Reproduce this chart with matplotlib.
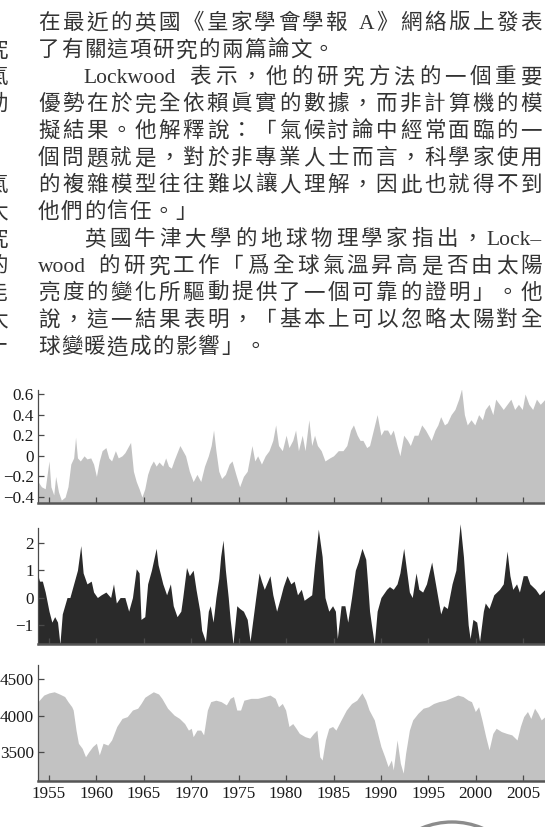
import re
import matplotlib
matplotlib.use("Agg")
import matplotlib.pyplot as plt
from matplotlib.patches import Circle

W, H = 545, 827

# global temperature anomaly (deg C)
temp_years = [1953.84, 1954.2, 1954.6, 1955.0, 1955.2, 1955.5, 1955.7, 1956.0, 1956.3, 1956.7,
              1957.0, 1957.3, 1957.6, 1957.8, 1958.0, 1958.3, 1958.7, 1959.0, 1959.4, 1959.7,
              1960.0, 1960.3, 1960.6, 1961.0, 1961.3, 1961.6, 1962.0, 1962.3, 1962.7, 1963.0,
              1963.3, 1963.6, 1963.9, 1964.2, 1964.5, 1964.8, 1965.1, 1965.4, 1965.7, 1966.0,
              1966.3, 1966.6, 1967.0, 1967.3, 1967.6, 1967.9, 1968.2, 1968.5, 1968.8, 1969.1,
              1969.4, 1969.8, 1970.2, 1970.6, 1971.0, 1971.4, 1971.8, 1972.1, 1972.35, 1972.6,
              1972.9, 1973.2, 1973.6, 1974.0, 1974.3, 1974.7, 1975.1, 1975.5, 1975.9, 1976.2,
              1976.4, 1976.7, 1977.0, 1977.4, 1977.8, 1978.2, 1978.6, 1978.9, 1979.2, 1979.6,
              1980.0, 1980.3, 1980.7, 1981.0, 1981.3, 1981.7, 1982.0, 1982.4, 1982.7, 1983.0,
              1983.3, 1983.7, 1984.1, 1984.6, 1985.0, 1985.5, 1986.0, 1986.4, 1986.8, 1987.1,
              1987.5, 1987.8, 1988.1, 1988.5, 1988.8, 1989.2, 1989.6, 1990.0, 1990.3, 1990.7,
              1991.0, 1991.3, 1991.7, 1992.0, 1992.4, 1992.8, 1993.1, 1993.5, 1993.9, 1994.3,
              1994.7, 1995.0, 1995.3, 1995.7, 1996.0, 1996.3, 1996.7, 1997.0, 1997.4, 1997.8,
              1998.2, 1998.5, 1998.8, 1999.1, 1999.5, 1999.9, 2000.3, 2000.7, 2001.0, 2001.4,
              2001.8, 2002.1, 2002.5, 2002.9, 2003.3, 2003.7, 2004.1, 2004.5, 2004.9, 2005.2,
              2005.6, 2006.0, 2006.4, 2006.8, 2007.3]
temp_values = [-0.25, -0.3, -0.32, -0.05, -0.3, -0.38, -0.2, -0.35, -0.43, -0.4,
               -0.3, -0.08, -0.02, 0.18, -0.02, -0.05, 0.0, -0.03, -0.02, -0.08,
               -0.2, -0.05, 0.05, 0.08, -0.02, -0.05, 0.05, -0.02, 0.0, 0.03,
               0.08, 0.13, -0.15, -0.25, -0.32, -0.4, -0.32, -0.18, -0.1, -0.05,
               -0.1, -0.06, -0.1, -0.02, -0.1, -0.12, -0.04, 0.03, 0.1, 0.05,
               0.0, -0.15, -0.25, -0.18, -0.25, -0.1, 0.0, 0.1, 0.25, 0.05,
               -0.15, -0.22, -0.18, -0.08, -0.05, -0.18, -0.3, -0.2, -0.15, 0.0,
               0.1, -0.05, 0.0, -0.08, 0.0, 0.05, 0.15, 0.3, 0.1, 0.05,
               0.2, 0.08, 0.15, 0.25, 0.05, 0.2, 0.05, 0.35, 0.1, 0.2,
               0.1, 0.05, -0.05, -0.02, 0.0, 0.05, 0.05, 0.1, 0.25, 0.3,
               0.2, 0.15, 0.15, 0.08, 0.1, 0.25, 0.4, 0.2, 0.25, 0.25,
               0.2, 0.25, 0.1, 0.0, 0.2, 0.15, 0.1, 0.2, 0.2, 0.3,
               0.25, 0.2, 0.15, 0.25, 0.3, 0.38, 0.3, 0.32, 0.4, 0.45,
               0.55, 0.65, 0.4, 0.3, 0.35, 0.3, 0.4, 0.35, 0.45, 0.5,
               0.4, 0.55, 0.5, 0.45, 0.5, 0.55, 0.45, 0.5, 0.45, 0.6,
               0.5, 0.45, 0.55, 0.5, 0.55]

# standardised index (dark panel)
idx_years = [1953.84, 1954.0, 1954.3, 1954.6, 1955.0, 1955.3, 1955.6, 1955.9, 1956.15, 1956.4,
             1956.9, 1957.2, 1957.6, 1958.0, 1958.35, 1958.6, 1959.0, 1959.45, 1959.7, 1960.1,
             1960.5, 1961.0, 1961.5, 1961.8, 1962.1, 1962.5, 1963.0, 1963.4, 1963.8, 1964.2,
             1964.5, 1964.7, 1965.1, 1965.4, 1965.8, 1966.3, 1966.5, 1967.0, 1967.4, 1967.8,
             1968.1, 1968.5, 1968.9, 1969.1, 1969.5, 1969.8, 1970.2, 1970.5, 1970.9, 1971.1,
             1971.5, 1971.8, 1972.0, 1972.3, 1972.6, 1972.9, 1973.1, 1973.35, 1973.6, 1973.9,
             1974.1, 1974.4, 1974.8, 1975.1, 1975.5, 1975.9, 1976.2, 1976.5, 1976.8, 1977.15,
             1977.4, 1977.7, 1978.3, 1978.6, 1979.0, 1979.4, 1979.7, 1980.1, 1980.5, 1980.85,
             1981.2, 1981.6, 1981.9, 1982.3, 1982.7, 1983.0, 1983.4, 1983.8, 1984.1, 1984.5,
             1984.9, 1985.2, 1985.4, 1985.8, 1986.2, 1986.5, 1986.9, 1987.3, 1987.6, 1988.0,
             1988.4, 1988.6, 1988.8, 1989.0, 1989.3, 1989.6, 1990.0, 1990.6, 1990.9, 1991.3,
             1991.7, 1992.0, 1992.4, 1992.7, 1993.0, 1993.3, 1993.7, 1994.0, 1994.4, 1994.8,
             1995.35, 1995.6, 1995.9, 1996.3, 1996.6, 1997.0, 1997.5, 1997.9, 1998.35, 1998.7,
             1999.0, 1999.2, 1999.4, 1999.7, 2000.1, 2000.4, 2000.8, 2001.0, 2001.4, 2001.9,
             2002.5, 2002.9, 2003.3, 2003.6, 2003.9, 2004.3, 2004.6, 2005.0, 2005.4, 2005.7,
             2006.3, 2006.7, 2007.3]
idx_values = [0.8, 0.6, 0.6, 0.2, -0.5, -0.9, -0.7, -0.9, -1.7, -0.6,
              0.0, 0.0, 0.5, 1.0, 1.9, 0.9, 0.5, 0.6, 0.2, 0.0,
              0.1, 0.2, 0.0, 0.5, -0.2, 0.0, 0.0, -0.5, 0.0, 1.05,
              0.9, -0.8, -0.7, 0.5, 1.0, 1.8, 1.2, 0.5, 0.1, 0.5,
              -0.3, -0.7, -0.5, 0.0, 1.1, 0.8, 1.0, 0.3, -0.5, -1.2,
              -1.6, -0.5, -0.3, -0.9, 0.0, 0.7, 1.5, 2.1, 1.0, 0.0,
              -0.8, -1.7, -0.3, -0.4, -0.5, -0.8, -1.6, -0.8, 0.0, 0.9,
              0.6, 0.3, 0.8, 0.1, -0.5, 0.0, 0.4, 0.8, 0.5, 0.6,
              0.1, 0.3, -0.1, 0.0, 0.1, 1.2, 2.5, 1.5, 0.0, -0.5,
              -0.3, -0.5, -1.5, -0.3, -0.3, -0.9, 0.0, 1.0, 1.3, 1.8,
              1.4, 0.5, -0.5, -1.0, -1.7, -0.5, 0.0, 0.3, 0.4, 0.3,
              0.5, 0.9, 1.8, 1.0, 0.2, 0.0, 0.9, 0.3, 0.2, 0.5,
              1.3, 0.8, 0.2, -0.6, -0.3, -0.4, 0.5, 1.0, 2.7, 1.5,
              0.0, -1.0, -1.5, -0.8, -0.9, -1.6, -0.5, -0.2, -0.4, 0.1,
              0.3, 0.5, 1.7, 0.8, 0.3, 0.5, 0.2, 0.8, 0.8, 0.5,
              0.3, 0.1, 0.3]

# neutron monitor count rate
cnt_years = [1953.84, 1954.45, 1955.0, 1955.55, 1956.1, 1956.65, 1957.0, 1957.4, 1957.55, 1957.85,
             1958.1, 1958.5, 1958.85, 1959.2, 1959.6, 1960.0, 1960.3, 1960.7, 1961.2, 1961.6,
             1962.15, 1962.7, 1963.25, 1963.8, 1964.35, 1964.7, 1965.1, 1965.45, 1966.0, 1966.55,
             1966.9, 1967.5, 1968.2, 1968.75, 1969.3, 1969.7, 1970.0, 1970.2, 1970.6, 1971.0,
             1971.3, 1971.7, 1972.05, 1972.6, 1973.15, 1973.7, 1974.1, 1974.45, 1974.8, 1975.2,
             1975.55, 1976.3, 1977.0, 1977.75, 1978.3, 1978.85, 1979.2, 1979.6, 1979.95, 1980.3,
             1980.7, 1981.05, 1981.4, 1982.0, 1982.5, 1982.9, 1983.25, 1983.55, 1983.8, 1984.15,
             1984.5, 1984.9, 1985.25, 1985.8, 1986.35, 1986.9, 1987.45, 1988.0, 1988.4, 1988.75,
             1989.3, 1989.65, 1990.0, 1990.4, 1990.75, 1991.1, 1991.3, 1991.7, 1992.05, 1992.35,
             1992.6, 1993.0, 1993.35, 1993.9, 1994.45, 1995.0, 1995.55, 1996.1, 1996.8, 1997.55,
             1998.1, 1998.65, 1999.2, 1999.55, 1999.95, 2000.3, 2000.65, 2001.05, 2001.4, 2001.8,
             2002.15, 2002.7, 2003.25, 2003.8, 2004.35, 2004.7, 2005.05, 2005.45, 2005.8, 2006.2,
             2006.55, 2006.9, 2007.3]
cnt_values = [4190, 4280, 4310, 4325, 4295, 4260, 4190, 4120, 4075, 3800,
              3620, 3550, 3435, 3505, 3575, 3620, 3460, 3620, 3595, 3665,
              3850, 3960, 3985, 4075, 4100, 4165, 4250, 4280, 4325, 4295,
              4235, 4100, 4005, 3960, 3890, 3800, 3825, 3710, 3800, 3800,
              3735, 4075, 4190, 4210, 4190, 4145, 4235, 4260, 4075, 4075,
              4210, 4235, 4235, 4260, 4280, 4235, 4120, 4165, 4075, 3850,
              3890, 3825, 3755, 3710, 3690, 3755, 3800, 3435, 3390, 3665,
              3825, 3850, 3800, 3940, 4075, 4165, 4210, 4310, 4210, 4075,
              3940, 3755, 3575, 3435, 3300, 3390, 3255, 3665, 3345, 3210,
              3480, 3800, 3940, 4030, 4100, 4120, 4165, 4190, 4210, 4250,
              4280, 4260, 4210, 4190, 4055, 4120, 3940, 3710, 3530, 3755,
              3825, 3780, 3755, 3735, 3665, 3850, 3985, 4055, 3960, 4100,
              4030, 3940, 3985]

year_ticks = [1955, 1960, 1965, 1970, 1975, 1980, 1985, 1990, 1995, 2000, 2005]
temp_ticks = [-0.4, -0.2, 0, 0.2, 0.4, 0.6]
temp_labels = ["\u22120.4", "\u22120.2", "0", "0.2", "0.4", "0.6"]
idx_ticks = [-1, 0, 1, 2]
idx_labels = ["\u22121", "0", "1", "2"]
cnt_ticks = [3500, 4000, 4500]

# article text: (line, indent in characters, justified)
body_lines = [
    ("在最近的英國《皇家學會學報 A》網絡版上發表", 0, True),
    ("了有關這項研究的兩篇論文。", 0, False),
    ("Lockwood 表示，他的研究方法的一個重要", 2, True),
    ("優勢在於完全依賴眞實的數據，而非計算機的模", 0, True),
    ("擬結果。他解釋說：「氣候討論中經常面臨的一", 0, True),
    ("個問題就是，對於非專業人士而言，科學家使用", 0, True),
    ("的複雜模型往往難以讓人理解，因此也就得不到", 0, True),
    ("他們的信任。」", 0, False),
    ("英國牛津大學的地球物理學家指出，Lock\u2013", 2, True),
    ("wood 的研究工作「爲全球氣溫昇高是否由太陽", 0, True),
    ("亮度的變化所驅動提供了一個可靠的證明」。他", 0, True),
    ("說，這一結果表明，「基本上可以忽略太陽對全", 0, True),
    ("球變暖造成的影響」。", 0, False),
]
# last characters of the neighbouring column, cut by the page edge
edge_chars = ["究", "氣", "助", "氣", "太", "究", "的", "能", "太", "十"]
edge_rows = [1, 2, 3, 6, 7, 8, 9, 10, 11, 12]

TEXT_FONT = ["Liberation Serif", "Noto Sans CJK TC", "DejaVu Sans"]
SERIF = ["Liberation Serif", "DejaVu Serif"]
FILL_LIGHT = "#c2c2c2"
FILL_DARK = "#2a2a2a"
AXIS_COL = "#4a4a4a"

fig = plt.figure(figsize=(W / 100, H / 100), dpi=100)


def px_axes(left, top, right, bottom):
    return fig.add_axes([left / W, 1 - bottom / H, (right - left) / W, (bottom - top) / H])


def style_axes(ax, show_years):
    for side in ("top", "right"):
        ax.spines[side].set_visible(False)
    ax.spines["left"].set_linewidth(0.9)
    ax.spines["left"].set_color(AXIS_COL)
    ax.spines["bottom"].set_linewidth(1.8)
    ax.spines["bottom"].set_color("#555555")
    ax.set_xlim(1953.84, 2007.3)
    ax.set_xticks(year_ticks)
    if show_years:
        ax.set_xticklabels([str(y) for y in year_ticks], fontfamily=SERIF)
    else:
        ax.set_xticklabels([])
    ax.tick_params(direction="in", length=4, width=0.9, colors=AXIS_COL,
                   labelcolor="#1a1a1a", labelsize=12.3)
    ax.tick_params(axis="y", pad=3)
    ax.tick_params(axis="x", pad=3.5)
    ax.set_facecolor("none")


# temperature
ax1 = px_axes(38, 390, W, 503)
ax1.fill_between(temp_years, temp_values, -0.458, color=FILL_LIGHT, linewidth=0)
ax1.set_ylim(-0.458, 0.639)
ax1.set_yticks(temp_ticks)
ax1.set_yticklabels(temp_labels, fontfamily=SERIF)
style_axes(ax1, False)

# index
ax2 = px_axes(38, 521, W, 644)
ax2.fill_between(idx_years, idx_values, -1.70, color=FILL_DARK, linewidth=0)
ax2.set_ylim(-1.70, 2.80)
ax2.spines["left"].set_bounds(-1.70, 2.55)
ax2.set_yticks(idx_ticks)
ax2.set_yticklabels(idx_labels, fontfamily=SERIF)
style_axes(ax2, False)

# counts
ax3 = px_axes(38, 665, W, 781)
ax3.fill_between(cnt_years, cnt_values, 3103, color=FILL_LIGHT, linewidth=0)
ax3.set_ylim(3103, 4692)
ax3.set_yticks(cnt_ticks)
ax3.set_yticklabels([str(v) for v in cnt_ticks], fontfamily=SERIF)
style_axes(ax3, True)

# page overlay in pixel coordinates for the article text
page = fig.add_axes([0, 0, 1, 1], zorder=-1)
page.set_xlim(0, W)
page.set_ylim(H, 0)
page.axis("off")

FS = 15.5
EM = FS * 100 / 72
PITCH = 22.9
LEFT, RIGHT = 38, 542
TOP_LINE, LEAD = 21, 27
renderer = fig.canvas.get_renderer()


def tokenize(line):
    return re.findall(r"[A-Za-z\u2013\-]+| |.", line)


def token_width(tok):
    if tok == " ":
        return 0.25 * EM
    if re.match(r"[A-Za-z\u2013\-]", tok):
        t = page.text(0, 0, tok, fontsize=FS, family=TEXT_FONT)
        w = t.get_window_extent(renderer).width
        t.remove()
        return w
    return EM


for row, (line, indent, justify) in enumerate(body_lines):
    toks = tokenize(line)
    widths = [token_width(t) for t in toks]
    x0 = LEFT + indent * PITCH
    if justify and len(toks) > 1:
        gap = (RIGHT - x0 - sum(widths)) / (len(toks) - 1)
    else:
        gap = PITCH - EM
    base = TOP_LINE + row * LEAD + 0.38 * EM
    x = x0
    for tok, w in zip(toks, widths):
        if tok != " ":
            if w == EM:
                page.text(x + w / 2, base, tok, fontsize=FS, family=TEXT_FONT,
                          ha="center", va="baseline", color="#333333")
            else:
                page.text(x, base, tok, fontsize=FS, family=TEXT_FONT,
                          ha="left", va="baseline", color="#333333")
        x += w + gap

for ch, row in zip(edge_chars, edge_rows):
    page.text(-3, TOP_LINE + row * LEAD + 0.38 * EM, ch, fontsize=FS,
              family=TEXT_FONT, ha="center", va="baseline", color="#333333")

# ring at the foot of the page
page.add_patch(Circle((452, 900), 78, fill=False, edgecolor="#8c8c8c", linewidth=2.4))

fig.savefig("out.png", dpi=100)
